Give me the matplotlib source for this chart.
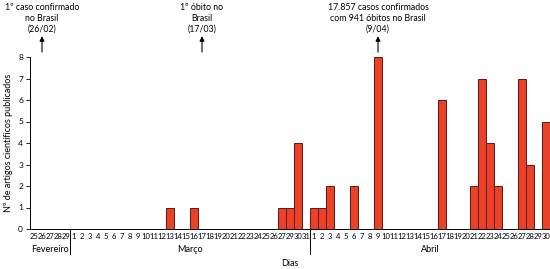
import matplotlib
matplotlib.use("Agg")
import matplotlib.pyplot as plt
from matplotlib.transforms import blended_transform_factory

# ---- data ----
feb_days = ['25', '26', '27', '28', '29']
mar_days = ['1', '2', '3', '4', '5', '6', '7', '8', '9', '10', '11', '12', '13', '14', '15',
            '16', '17', '18', '19', '20', '21', '22', '23', '24', '25', '26', '27', '29', '30', '31']
abr_days = ['1', '2', '3', '4', '5', '6', '7', '8', '9', '10', '11', '12', '13', '14', '15',
            '16', '17', '18', '19', '20', '21', '22', '23', '24', '25', '26', '27', '28', '29', '30']

feb_vals = [0, 0, 0, 0, 0]
mar_vals = [0, 0, 0, 0, 0, 0, 0, 0, 0, 0, 0, 0, 1, 0, 0,
            1, 0, 0, 0, 0, 0, 0, 0, 0, 0, 0, 1, 1, 4, 0]
abr_vals = [1, 1, 2, 0, 0, 2, 0, 0, 8, 0, 0, 0, 0, 0, 0,
            0, 6, 0, 0, 0, 2, 7, 4, 2, 0, 0, 7, 3, 0, 5]

months = ['Fevereiro', 'Março', 'Abril']
annotations = [
    ('Fevereiro', '26', '1º caso confirmado\nno Brasil\n(26/02)'),
    ('Março', '17', '1º óbito no\nBrasil\n(17/03)'),
    ('Abril', '9', '17.857 casos confirmados\ncom 941 óbitos no Brasil\n(9/04)'),
]
ylabel = 'Nº de artigos científicos publicados'
xlabel = 'Dias'

# ---- build ----
groups = [feb_days, mar_days, abr_days]
labels = feb_days + mar_days + abr_days
values = feb_vals + mar_vals + abr_vals
x = list(range(len(labels)))

plt.rcParams['font.family'] = ['Lato', 'DejaVu Sans']

fig = plt.figure(figsize=(5.5, 2.69), dpi=100)
ax = fig.add_axes([30 / 550, 40 / 269, 520 / 550, 172 / 269])

ax.bar(x, values, width=1.0, color='#EA4128', edgecolor='#5a1a10', linewidth=0.7)

ax.set_xlim(-0.5, len(labels) - 0.5)
ax.set_ylim(0, 8)
ax.set_yticks(range(0, 9))
ax.tick_params(axis='y', labelsize=6, length=3, width=0.6, pad=2)
ax.set_xticks(x)
ax.set_xticklabels(labels, fontsize=5.5)
ax.tick_params(axis='x', length=0, pad=3)
for s in ['top', 'right']:
    ax.spines[s].set_visible(False)
ax.spines['left'].set_linewidth(0.7)
ax.spines['bottom'].set_linewidth(0.7)

ax.set_ylabel(ylabel, fontsize=6.5, labelpad=4)

trans = blended_transform_factory(ax.transData, ax.transAxes)
start = 0
bounds = []
for g in groups:
    bounds.append((start, start + len(g)))
    start += len(g)
for i, (a, b) in enumerate(bounds):
    ax.text((a + b - 1) / 2, -0.122, months[i], transform=trans, ha='center', va='center', fontsize=6.5)
    if i > 0:
        ax.plot([a - 0.5, a - 0.5], [0, -0.145], transform=trans, color='black', lw=0.7, clip_on=False)

fig.text(290 / 550, 1 / 269, xlabel, ha='center', va='bottom', fontsize=6.5)

for month, day, txt in annotations:
    gi = months.index(month)
    xi = bounds[gi][0] + groups[gi].index(day)
    ax.annotate('', xy=(xi, 8.97), xytext=(xi, 8.23),
                arrowprops=dict(arrowstyle='-|>', lw=0.8, color='black', mutation_scale=7,
                                shrinkA=0, shrinkB=0),
                annotation_clip=False)
    ax.text(xi, 9.08, txt, ha='center', va='bottom', fontsize=6.3, linespacing=1.3,
            multialignment='center', clip_on=False)

fig.savefig('out.png', dpi=100)
